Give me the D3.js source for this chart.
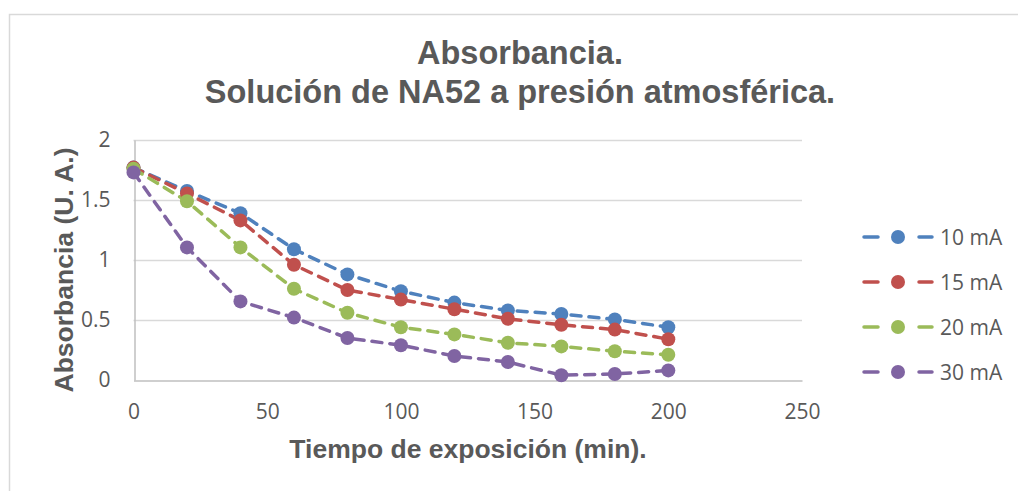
<!DOCTYPE html>
<html><head><meta charset="utf-8">
<script src="https://cdn.jsdelivr.net/npm/d3@7"></script>
<style>html,body{margin:0;padding:0;background:#fff;overflow:hidden}</style>
</head><body>
<script>
const times = [0,20,40,60,80,100,120,140,160,180,200];
const seriesNames = ["10 mA","15 mA","20 mA","30 mA"];
const s10 = [1.77,1.575,1.39,1.09,0.88,0.74,0.645,0.58,0.55,0.505,0.44];
const s15 = [1.77,1.555,1.33,0.96,0.75,0.67,0.59,0.51,0.46,0.42,0.34];
const s20 = [1.76,1.49,1.105,0.76,0.56,0.44,0.38,0.31,0.28,0.24,0.21];
const s30 = [1.73,1.105,0.655,0.52,0.35,0.29,0.20,0.15,0.04,0.05,0.08];
const colors = ["#4F81BD","#C0504D","#9BBB59","#8064A2"];
const xTicks = [0,50,100,150,200,250];
const yTicks = [0,0.5,1,1.5,2];
const titleLines = ["Absorbancia.","Solución de NA52 a presión atmosférica."];
const xTitle = "Tiempo de exposición (min).";
const yTitle = "Absorbancia (U. A.)";

const W=1018,H=491;
const svg=d3.select("body").append("svg").attr("width",W).attr("height",H);
svg.append("rect").attr("x",9.5).attr("y",14.5).attr("width",W).attr("height",H).attr("fill","#fff").attr("stroke","#D9D9D9").attr("stroke-width",1.5);

const x=d3.scaleLinear().domain([0,250]).range([133.5,802]);
const y=d3.scaleLinear().domain([0,2]).range([380,140]);
const txt="#595959";
const tickFont="Open Sans, sans-serif";
const boldFont="Liberation Sans, Arial, sans-serif";

// gridlines
svg.append("g").selectAll("line").data(yTicks.filter(d=>d>0)).join("line")
 .attr("x1",x(0)).attr("x2",x(250)).attr("y1",d=>Math.round(y(d))+0.5).attr("y2",d=>Math.round(y(d))+0.5)
 .attr("stroke","#D9D9D9").attr("stroke-width",1.5);

// axes
const xa=svg.append("g").attr("transform",`translate(0,${Math.round(y(0))+0.5})`)
 .call(d3.axisBottom(x).tickValues(xTicks).tickSize(0).tickPadding(24).tickFormat(d3.format("d")));
xa.select(".domain").attr("stroke","#BFBFBF").attr("stroke-width",1.5);
xa.selectAll("text").attr("fill",txt).attr("font-size",21).attr("font-family",tickFont);

const ya=svg.append("g").attr("transform",`translate(${Math.round(x(0))+0.5},0)`)
 .call(d3.axisLeft(y).tickValues(yTicks).tickSize(0).tickPadding(24).tickFormat(d=>String(d)));
ya.select(".domain").attr("stroke","#BFBFBF").attr("stroke-width",1.5);
ya.selectAll("text").attr("fill",txt).attr("font-size",21).attr("font-family",tickFont);

// series
const allSeries=[s10,s15,s20,s30];
const line=d3.line().x((d,i)=>x(times[i])).y(d=>y(d));
allSeries.forEach((s,k)=>{
  svg.append("path").datum(s).attr("d",line).attr("fill","none").attr("stroke",colors[k])
   .attr("stroke-width",3.5).attr("stroke-dasharray","10,8").attr("stroke-linecap","round");
});
allSeries.forEach((s,k)=>{
  svg.append("g").selectAll("circle").data(s).join("circle")
   .attr("cx",(d,i)=>x(times[i])).attr("cy",d=>y(d)).attr("r",7).attr("fill",colors[k]);
});

// titles
const t=svg.append("text").attr("fill",txt).attr("font-family",boldFont)
 .attr("font-weight","bold").attr("font-size",32.5).attr("text-anchor","middle");
t.selectAll("tspan").data(titleLines).join("tspan").attr("x",520).attr("y",(d,i)=>64+i*38.5).text(d=>d);

svg.append("text").attr("x",468).attr("y",458).attr("text-anchor","middle").attr("fill",txt)
 .attr("font-family",boldFont).attr("font-weight","bold").attr("font-size",26.5).text(xTitle);
svg.append("text").attr("transform","translate(73,270) rotate(-90)").attr("text-anchor","middle").attr("fill",txt)
 .attr("font-family",boldFont).attr("font-weight","bold").attr("font-size",26.5).text(yTitle);

// legend
const lg=svg.append("g");
seriesNames.forEach((n,k)=>{
  const ly=237+k*45;
  lg.append("line").attr("x1",864).attr("x2",878).attr("y1",ly).attr("y2",ly).attr("stroke",colors[k]).attr("stroke-width",3.5).attr("stroke-linecap","round");
  lg.append("line").attr("x1",919).attr("x2",932).attr("y1",ly).attr("y2",ly).attr("stroke",colors[k]).attr("stroke-width",3.5).attr("stroke-linecap","round");
  lg.append("circle").attr("cx",898).attr("cy",ly).attr("r",7).attr("fill",colors[k]);
  lg.append("text").attr("x",940).attr("y",ly).attr("dy","0.36em").attr("fill",txt).attr("font-size",21).attr("font-family",tickFont).text(n);
});
</script>
</body></html>
